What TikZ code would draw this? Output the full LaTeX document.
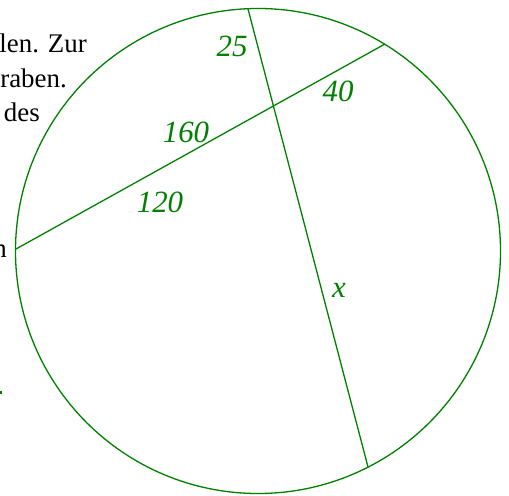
\documentclass[tikz,border=0pt]{standalone}
\usepackage{fontspec}
\setmainfont{Liberation Serif}
\definecolor{geo}{RGB}{0,128,0}
\begin{document}
\begin{tikzpicture}[x=1bp,y=-1bp,
  geoline/.style={draw=geo,line width=1.3bp},
  lab/.style={text=geo,font=\fontsize{31}{37}\selectfont\itshape,inner sep=0pt},
  bgtext/.style={text=black,font=\fontsize{27}{33}\selectfont,inner sep=0pt,anchor=base east}]
\useasboundingbox (0,0) rectangle (509,496);
% background text fragments
\node[bgtext] (t1) at (87,53) {len. Zur};
\node[bgtext] (t2) at (67,88) {raben.};
\node[bgtext] (t3) at (40,122) {des};
\node[bgtext] (t4) at (7,257) {n};
\fill[geo] (0,391) rectangle (2,394);
% circle and chords
\coordinate (O) at (258,251);
\draw[geoline] (O) circle[radius=242.5bp];
\coordinate (A) at (16,249);
\coordinate (B) at (385,44);
\coordinate (C) at (248,9);
\coordinate (D) at (368,467);
\draw[geoline] (A) -- (B);
\draw[geoline] (C) -- (D);
% labels
\node[lab,anchor=base] (l25) at (232,57) {25};
\node[lab,anchor=base] (l40) at (338,102) {40};
\node[lab,anchor=base] (l160) at (186,143) {160};
\node[lab,anchor=base] (l120) at (160,212) {120};
\node[lab,anchor=base] (lx) at (339,297) {x};
\end{tikzpicture}
\end{document}
